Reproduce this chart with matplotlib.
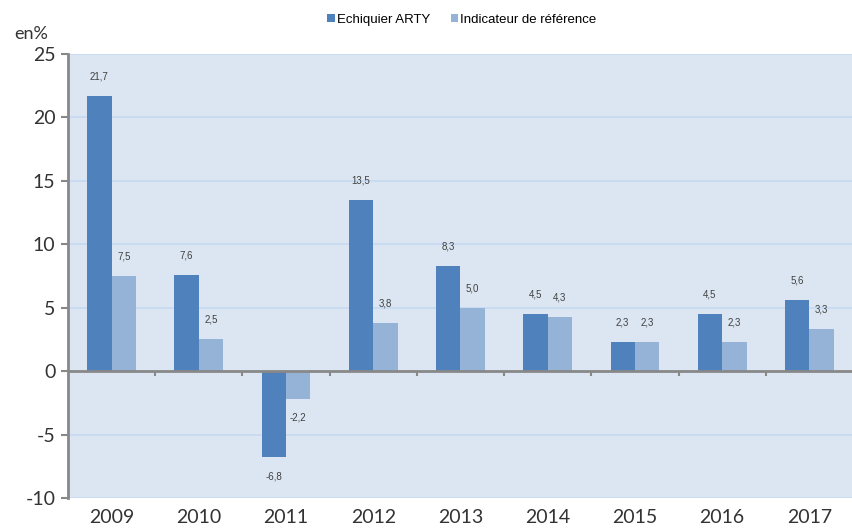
import matplotlib.pyplot as plt
import numpy as np

years = ['2009', '2010', '2011', '2012', '2013', '2014', '2015', '2016', '2017']
arty = [21.7, 7.6, -6.8, 13.5, 8.3, 4.5, 2.3, 4.5, 5.6]
ref = [7.5, 2.5, -2.2, 3.8, 5.0, 4.3, 2.3, 2.3, 3.3]

c_arty = '#4f81bd'
c_ref = '#95b3d7'

plt.rcParams['axes.unicode_minus'] = False

fig = plt.figure(figsize=(8.53, 5.29), dpi=100)
ax = fig.add_axes([68 / 853, 31 / 529, 785 / 853, 444 / 529])
ax.set_facecolor('#dce6f2')

x = np.arange(len(years))
w = 0.28
b1 = ax.bar(x - w / 2, arty, w, color=c_arty, label='Echiquier ARTY', zorder=3)
b2 = ax.bar(x + w / 2, ref, w, color=c_ref, label='Indicateur de référence', zorder=3)

for bars in (b1, b2):
    for r in bars:
        v = r.get_height()
        lab = f'{v:.1f}'.replace('.', ',')
        if v >= 0:
            ax.annotate(lab, (r.get_x() + r.get_width() / 2, v), xytext=(0, 10.5),
                        textcoords='offset points', ha='center', va='bottom',
                        fontsize=7, family='Liberation Sans', color='#404040')
        else:
            ax.annotate(lab, (r.get_x() + r.get_width() / 2, v), xytext=(0, -10),
                        textcoords='offset points', ha='center', va='top',
                        fontsize=7, family='Liberation Sans', color='#404040')

ax.set_xlim(-0.5, len(years) - 0.5)
ax.set_ylim(-10, 25)
ax.set_yticks(range(-10, 26, 5))
ax.set_xticks(x)
ax.set_xticklabels(years)
ax.tick_params(axis='x', length=0, pad=8, labelsize=14, labelcolor='#333333')
ax.tick_params(axis='y', length=5, width=1.5, color='#888888', pad=4,
               labelsize=14, labelcolor='#333333')
for t in ax.get_xticklabels() + ax.get_yticklabels():
    t.set_family('Lato')

ax.grid(axis='y', color='#c6d9f1', linewidth=1.2, zorder=0)
ax.axhline(0, color='#888888', linewidth=2, zorder=4)
# small ticks on the zero line between the groups
ax.vlines(x[:-1] + 0.5, -0.4, 0, color='#888888', linewidth=1.5, zorder=4)

for s in ['top', 'right', 'bottom']:
    ax.spines[s].set_visible(False)
ax.spines['left'].set_color('#888888')
ax.spines['left'].set_linewidth(2)

fig.text(14 / 853, 1 - 34 / 529, 'en%', fontsize=13, family='Lato', color='#333333',
         va='center')

handles, labels = ax.get_legend_handles_labels()
fig.legend(handles, labels, loc='center', bbox_to_anchor=(462 / 853, 1 - 20 / 529), ncol=2,
           frameon=False, handlelength=0.55, handleheight=0.55,
           handletextpad=0.15, columnspacing=1.6,
           prop={'family': 'Liberation Sans', 'size': 9.5})

fig.savefig('out.png', dpi=100)
